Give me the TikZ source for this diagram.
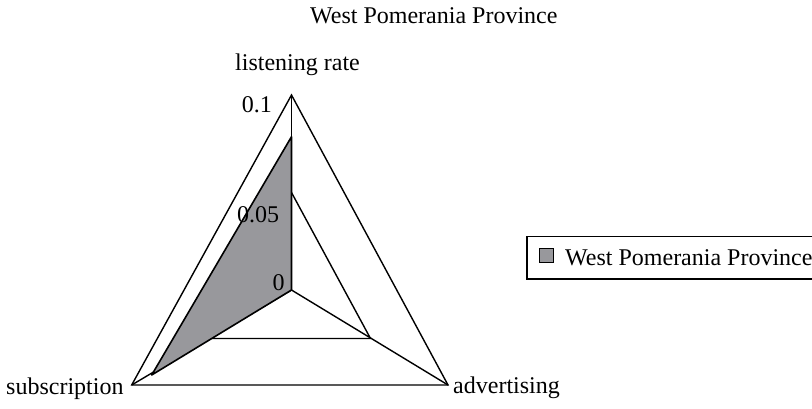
\documentclass[tikz,border=0pt]{standalone}
\usepackage{fontspec}
\setmainfont{Liberation Serif}
\definecolor{seriesgray}{RGB}{152,152,156}
\begin{document}
\begin{tikzpicture}[x=1pt,y=-1pt,
    lbl/.style={inner sep=0pt,font=\fontsize{24}{28}\selectfont},
    frame/.style={draw=black,line width=1.4pt,line join=miter},
    series/.style={draw=black,fill=seriesgray,line width=1.6pt,line join=round}]
  \useasboundingbox (0,0) rectangle (812,408);
  \clip (0,0) rectangle (812,408);

  % chart title
  \node[lbl,anchor=base west] (title) at (310,23) {West Pomerania Province};

  % radar axes: centre and outer vertices
  \coordinate (c) at (291.5,290);
  \coordinate (top) at (291.5,95);
  \coordinate (bl) at (131.7,385);
  \coordinate (br) at (448,385);
  % 0.05 grid level
  \coordinate (gt) at (291.5,192.5);
  \coordinate (gl) at (211.6,338.5);
  \coordinate (gr) at (370.5,338.5);
  % data points
  \coordinate (dl) at (291.5,136.7);
  \coordinate (ds) at (151.7,375);

  \draw[frame] (top) -- (br) -- (bl) -- cycle;
  \draw[frame] (c) -- (top);
  \draw[frame] (c) -- (bl);
  \draw[frame] (c) -- (br);
  \draw[frame] (gt) -- (gr) -- (gl) -- cycle;

  % series polygon (advertising = 0)
  \draw[series] (dl) -- (c) -- (ds) -- cycle;

  % axis scale labels
  \node[lbl,anchor=base east] (t1) at (272,112) {0.1};
  \node[lbl,anchor=base west] (t05) at (237,222) {0.05};
  \node[lbl,anchor=base west] (t0) at (272.5,290) {0};

  % category labels
  \node[lbl,anchor=base west] (listen) at (235,70) {listening rate};
  \node[lbl,anchor=base west] (subs) at (6,394) {subscription};
  \node[lbl,anchor=base west] (adv) at (453,393) {advertising};

  % legend
  \draw[line width=1.2pt] (840,236.5) -- (527,236.5) -- (527,279) -- (840,279);
  \node[draw=black,fill=seriesgray,line width=1pt,minimum size=14pt,inner sep=0pt] (key) at (546,255) {};
  \node[lbl,anchor=base west] (keytext) at (565,265) {West Pomerania Province};
\end{tikzpicture}
\end{document}
